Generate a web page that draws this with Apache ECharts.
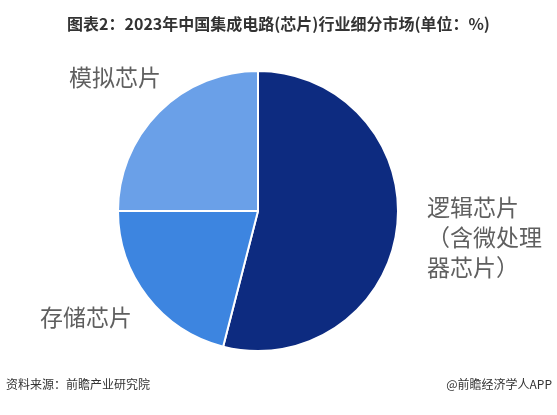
<!DOCTYPE html>
<html>
<head>
<meta charset="utf-8">
<script src="https://cdn.jsdelivr.net/npm/echarts@6/dist/echarts.min.js"></script>
<style>
html,body{margin:0;padding:0;background:#fff;}
#chart{width:557px;height:415px;}
</style>
</head>
<body>
<div id="chart"></div>
<script>
const categories = ['逻辑芯片\n（含微处理\n器芯片）', '存储芯片', '模拟芯片'];
const values = [54, 21, 25];
const colors = ['#0d2b80', '#3d85e0', '#6aa0e8'];
const titleText = '图表2：2023年中国集成电路(芯片)行业细分市场(单位：%)';
const sourceText = '资料来源：前瞻产业研究院';
const brandText = '@前瞻经济学人APP';

const labelPos = [
  {x: 427, y: 237, align: 'left'},
  {x: 40, y: 317, align: 'left'},
  {x: 69, y: 77, align: 'left'}
];

const chart = echarts.init(document.getElementById('chart'));
chart.setOption({
  backgroundColor: '#fff',
  animation: false,
  title: {
    text: titleText,
    left: 'center',
    top: 11,
    textStyle: {fontFamily: 'Noto Sans CJK SC', fontSize: 16, fontWeight: 'bold', color: '#333'}
  },
  graphic: [
    {type: 'text', left: 6, top: 378, style: {text: sourceText, fontFamily: 'Noto Sans CJK SC', fontSize: 12, fill: '#333'}},
    {type: 'text', right: 5, top: 378, style: {text: brandText, fontFamily: 'Noto Sans CJK SC', fontSize: 12, fill: '#333'}}
  ],
  series: [{
    type: 'pie',
    center: [258, 211],
    radius: [0, 140],
    startAngle: 90,
    clockwise: true,
    data: categories.map((c, i) => ({name: c, value: values[i], itemStyle: {color: colors[i]}})),
    itemStyle: {borderColor: '#fff', borderWidth: 2},
    label: {
      show: true,
      formatter: '{b}',
      fontFamily: 'Noto Sans CJK SC',
      fontSize: 23,
      lineHeight: 30,
      color: '#5f5f5f',
      overflow: 'none',
      width: 200
    },
    labelLine: {show: false},
    labelLayout: function (p) {
      const l = labelPos[p.dataIndex];
      return {x: l.x, y: l.y, align: l.align, verticalAlign: 'middle'};
    },
    emphasis: {disabled: true}
  }]
});
</script>
</body>
</html>
